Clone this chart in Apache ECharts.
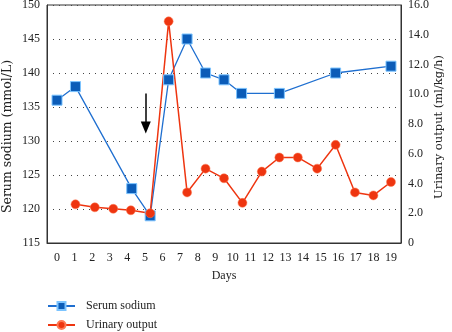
<!DOCTYPE html>
<html>
<head>
<meta charset="utf-8">
<script src="https://cdn.jsdelivr.net/npm/echarts@6/dist/echarts.min.js"></script>
<style>
  html, body { margin: 0; padding: 0; background: #fff; }
  #chart { width: 452px; height: 332px; }
</style>
</head>
<body>
<div id="chart"></div>
<script>
// Days (x), values per series
const sodiumDays = [0, 1.05, 4.25, 5.3, 6.35, 7.4, 8.45, 9.5, 10.5, 12.65, 15.85, 19];
const sodiumValues = [136, 138, 123, 119, 139, 145, 140, 139, 137, 137, 140, 141];

const urineDays = [1.05, 2.15, 3.2, 4.2, 5.3, 6.35, 7.4, 8.45, 9.5, 10.55, 11.65, 12.65, 13.7, 14.8, 15.85, 16.95, 18, 19];
const urineValues = [2.6, 2.4, 2.3, 2.2, 2.0, 14.9, 3.4, 5.0, 4.35, 2.7, 4.8, 5.75, 5.75, 5.0, 6.6, 3.4, 3.2, 4.1];

const dayTicks = [0, 1, 2, 3, 4, 5, 6, 7, 8, 9, 10, 11, 12, 13, 14, 15, 16, 17, 18, 19];

// arrow marking the intervention (day, sodium)
const arrowFrom = [5.05, 137];
const arrowTo = [5.05, 132];

const FONT = "Liberation Serif";
const NAME_FONT = "DejaVu Serif";
const BLUE = "#0b5cb8";
const RED = "#ee3510";

const chart = echarts.init(document.getElementById("chart"));

chart.setOption({
  animation: false,
  textStyle: { fontFamily: FONT, color: "#222" },
  grid: {
    left: 47, right: 51, top: 5, bottom: 89,
    outerBoundsMode: "none",
    containLabel: false,
    show: true, borderColor: "#333", borderWidth: 1
  },
  legend: {
    orient: "vertical",
    left: 47,
    top: 300,
    padding: 0,
    itemWidth: 27,
    itemHeight: 10,
    itemGap: 7,
    textStyle: { fontFamily: FONT, fontSize: 12, lineHeight: 12, color: "#222", padding: [0, 0, 0, 6] },
    data: ["Serum sodium", "Urinary output"]
  },
  xAxis: {
    type: "value",
    min: -0.57,
    max: 19.57,
    name: "Days",
    nameLocation: "middle",
    nameGap: 27,
    nameMoveOverlap: false,
    nameTextStyle: { fontFamily: FONT, fontSize: 12, color: "#222" },
    axisLine: { onZero: false, lineStyle: { color: "#333" } },
    axisTick: { show: false },
    splitLine: { show: false },
    axisLabel: {
      customValues: dayTicks,
      margin: 9,
      fontFamily: FONT,
      fontSize: 12,
      color: "#222"
    }
  },
  yAxis: [
    {
      type: "value",
      min: 115,
      max: 150,
      interval: 5,
      name: "Serum sodium (mmol/L)",
      nameLocation: "middle",
      nameRotate: 90,
      nameGap: 33,
      nameMoveOverlap: false,
      nameTextStyle: { fontFamily: NAME_FONT, fontSize: 12.5, color: "#222", padding: [0, 25, 0, 0] },
      axisLine: { show: true, onZero: false, lineStyle: { color: "#333" } },
      axisTick: { show: false },
      axisLabel: { margin: 7, fontFamily: FONT, fontSize: 12, color: "#222" },
      splitLine: { show: true, lineStyle: { color: "#444", type: [1, 5], width: 1 } }
    },
    {
      type: "value",
      min: 0,
      max: 16,
      interval: 2,
      name: "Urinary output (ml/kg/h)",
      nameLocation: "middle",
      nameRotate: 90,
      nameGap: 32,
      nameMoveOverlap: false,
      nameTextStyle: { fontFamily: NAME_FONT, fontSize: 11.5, color: "#222", padding: [0, 6, 0, 0] },
      axisLine: { show: true, onZero: false, lineStyle: { color: "#333" } },
      axisTick: { show: false },
      splitLine: { show: false },
      axisLabel: {
        margin: 7,
        fontFamily: FONT,
        fontSize: 12,
        color: "#222",
        formatter: (v) => (v === 0 ? "0" : v.toFixed(1))
      }
    }
  ],
  series: [
    {
      name: "Serum sodium",
      type: "line",
      yAxisIndex: 0,
      symbol: "rect",
      symbolSize: 10,
      lineStyle: { color: "#1f6fd0", width: 1.3 },
      itemStyle: { color: BLUE, borderColor: "#7cc4ff", borderWidth: 1 },
      data: sodiumDays.map((d, i) => [d, sodiumValues[i]]),
      markLine: {
        silent: true,
        symbol: ["none", "triangle"],
        symbolSize: [10, 12],
        symbolRotate: 180,
        label: { show: false },
        lineStyle: { color: "#000", width: 1.5, type: "solid" },
        data: [[{ coord: arrowFrom }, { coord: arrowTo }]]
      }
    },
    {
      name: "Urinary output",
      type: "line",
      yAxisIndex: 1,
      symbol: "circle",
      symbolSize: 9,
      lineStyle: { color: RED, width: 1.5 },
      itemStyle: { color: RED, borderColor: "#ff7a55", borderWidth: 0.5 },
      data: urineDays.map((d, i) => [d, urineValues[i]])
    }
  ]
});
</script>
</body>
</html>
